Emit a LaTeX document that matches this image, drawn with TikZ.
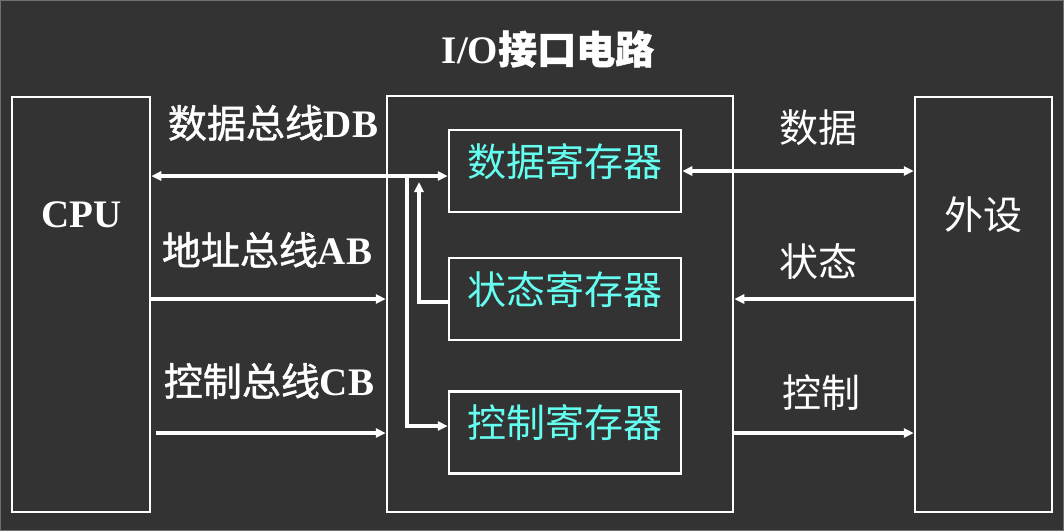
\documentclass[tikz,border=0pt]{standalone}
\usepackage{fontspec}
\setmainfont{Liberation Serif}
\newfontfamily\cjk{Noto Sans CJK SC}
\newfontfamily\cjkb{Noto Sans CJK SC}[FakeBold=1.2]
\usetikzlibrary{arrows.meta,positioning}
\definecolor{bgray}{RGB}{51,51,51}
\definecolor{regcyan}{RGB}{100,255,240}
\tikzset{
  blk/.style={draw=white,line width=2.5pt,rectangle,inner sep=0pt},
  reg/.style={blk,minimum width=232pt,minimum height=82pt,text=regcyan,
    font=\fontsize{39}{42}\cjk,text height=39pt,text depth=29pt},
  bus/.style={white,line width=3.2pt,-{Triangle[length=10pt,width=9pt]}},
  lbl/.style={text=white,font=\fontsize{39}{42}\selectfont,inner sep=0pt}
}
\begin{document}
\begin{tikzpicture}[x=1pt,y=-1pt]
	\useasboundingbox (0,0) rectangle (1064,531);
	\fill[bgray] (0,0) rectangle (1064,531);
	\draw[gray!80!bgray,line width=1pt] (0.5,0.5) rectangle (1063.5,530.5);
	% boxes
	\node[blk,minimum width=138pt,minimum height=415pt] (cpu) at (81,304.5) {};
	\node[blk,minimum width=346pt,minimum height=416pt] (io) at (560,304) {};
	\node[blk,minimum width=137pt,minimum height=415pt] (dev) at (983.5,304.5) {};
	\node[reg] (dreg) at (565,171) {数据寄存器};
	\node[reg] (sreg) at (565,299) {状态寄存器};
	\node[reg] (creg) at (565,432.5) {控制寄存器};
	% labels
	\node[lbl] at (548,49) {\bfseries I/O{\cjkb 接口电路}};
	\node[lbl] at (81.5,215) {\bfseries CPU};
	\node[lbl] at (983,215) {\cjk 外设};
	\node[lbl] at (273,123) {{\cjkb 数据总线}\bfseries DB};
	\node[lbl] at (267,250) {{\cjkb 地址总线}\bfseries AB};
	\node[lbl] at (269,381) {{\cjkb 控制总线}\bfseries CB};
	\node[lbl] at (818,128) {\cjk 数据};
	\node[lbl] at (818,262) {\cjk 状态};
	\node[lbl] at (821,393) {\cjk 控制};
	% buses
	\coordinate (db) at (407,176);
	\coordinate (sb) at (419,302);
	\draw[bus,{Triangle[length=10pt,width=9pt]}-{Triangle[length=10pt,width=9pt]}] (cpu.east |- db) -- (dreg.west |- db);
	\draw[bus] (cpu.east |- 0,299) -- (io.west |- 0,299);
	\draw[bus] ([xshift=5pt]cpu.east |- 0,433) -- (io.west |- 0,433);
	\draw[bus] (db) -- (db |- 0,426) -- (creg.west |- 0,426);
	\draw[bus] (sreg.west |- sb) -- (sb) -- (sb |- 0,182);
	\draw[bus,{Triangle[length=10pt,width=9pt]}-{Triangle[length=10pt,width=9pt]}] (dreg.east) -- (dev.west |- dreg.east);
	\draw[bus] (dev.west |- 0,299) -- (io.east |- 0,299);
	\draw[bus] (io.east |- 0,433) -- (dev.west |- 0,433);
\end{tikzpicture}
\end{document}
